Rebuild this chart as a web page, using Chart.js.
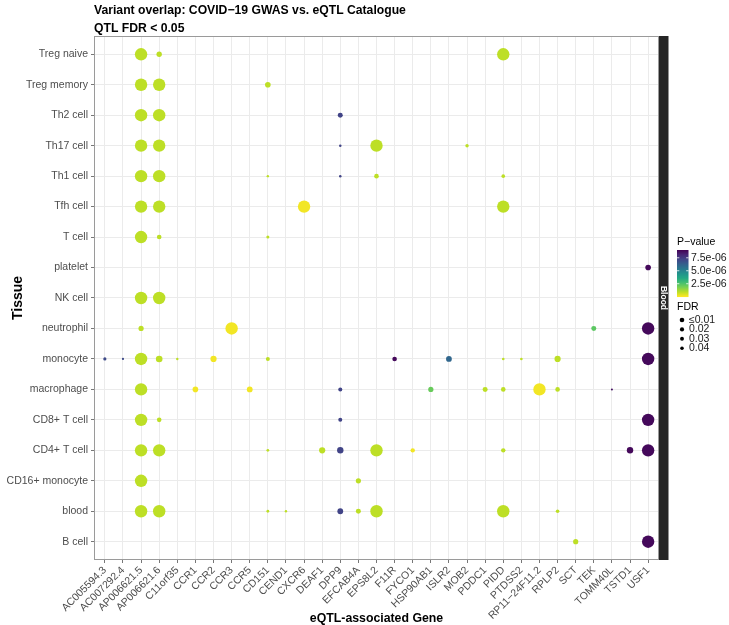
<!DOCTYPE html>
<html>
<head>
<meta charset="utf-8">
<script src="https://cdn.jsdelivr.net/npm/chart.js@4"></script>
<style>
  html, body { margin: 0; padding: 0; background: #fff; }
  #wrap { width: 729px; height: 625px; }
</style>
</head>
<body>
<div id="wrap"><canvas id="chart" width="729" height="625"></canvas></div>
<script>
// 1. DATOS
const genes = [
  "AC005594.3", "AC007292.4", "AP006621.5", "AP006621.6", "C11orf35", "CCR1", "CCR2",
  "CCR3", "CCR5", "CD151", "CEND1", "CXCR6", "DEAF1", "DPP9", "EFCAB4A", "EPS8L2",
  "F11R", "FYCO1", "HSP90AB1", "ISLR2", "MOB2", "PDDC1", "PIDD", "PTDSS2",
  "RP11\u221224F11.2", "RPLP2", "SCT", "TEK", "TOMM40L", "TSTD1", "USF1"
];
const tissues = [
  "Treg naive", "Treg memory", "Th2 cell", "Th17 cell", "Th1 cell", "Tfh cell", "T cell",
  "platelet", "NK cell", "neutrophil", "monocyte", "macrophage", "CD8+ T cell",
  "CD4+ T cell", "CD16+ monocyte", "blood", "B cell"
];

// una fila por punto: tejido, gen, p-valor, FDR
const ptTissue = [
  "Treg naive", "Treg naive", "Treg naive",
  "Treg memory", "Treg memory", "Treg memory",
  "Th2 cell", "Th2 cell", "Th2 cell",
  "Th17 cell", "Th17 cell", "Th17 cell", "Th17 cell", "Th17 cell",
  "Th1 cell", "Th1 cell", "Th1 cell", "Th1 cell", "Th1 cell", "Th1 cell",
  "Tfh cell", "Tfh cell", "Tfh cell", "Tfh cell",
  "T cell", "T cell", "T cell",
  "platelet",
  "NK cell", "NK cell",
  "neutrophil", "neutrophil", "neutrophil", "neutrophil",
  "monocyte", "monocyte", "monocyte", "monocyte", "monocyte", "monocyte", "monocyte",
  "monocyte", "monocyte", "monocyte", "monocyte", "monocyte", "monocyte",
  "macrophage", "macrophage", "macrophage", "macrophage", "macrophage",
  "macrophage", "macrophage", "macrophage", "macrophage", "macrophage",
  "CD8+ T cell", "CD8+ T cell", "CD8+ T cell", "CD8+ T cell",
  "CD4+ T cell", "CD4+ T cell", "CD4+ T cell", "CD4+ T cell", "CD4+ T cell",
  "CD4+ T cell", "CD4+ T cell", "CD4+ T cell", "CD4+ T cell", "CD4+ T cell",
  "CD16+ monocyte", "CD16+ monocyte",
  "blood", "blood", "blood", "blood", "blood", "blood", "blood", "blood", "blood",
  "B cell", "B cell"
];
const ptGene = [
  "AP006621.5", "AP006621.6", "PIDD",
  "AP006621.5", "AP006621.6", "CD151",
  "AP006621.5", "AP006621.6", "DPP9",
  "AP006621.5", "AP006621.6", "DPP9", "EPS8L2", "MOB2",
  "AP006621.5", "AP006621.6", "CD151", "DPP9", "EPS8L2", "PIDD",
  "AP006621.5", "AP006621.6", "CXCR6", "PIDD",
  "AP006621.5", "AP006621.6", "CD151",
  "USF1",
  "AP006621.5", "AP006621.6",
  "AP006621.5", "CCR3", "TEK", "USF1",
  "AC005594.3", "AC007292.4", "AP006621.5", "AP006621.6", "C11orf35", "CCR2", "CD151",
  "F11R", "ISLR2", "PIDD", "PTDSS2", "RPLP2", "USF1",
  "AP006621.5", "CCR1", "CCR5", "DPP9", "HSP90AB1",
  "PDDC1", "PIDD", "RP11\u221224F11.2", "RPLP2", "TOMM40L",
  "AP006621.5", "AP006621.6", "DPP9", "USF1",
  "AP006621.5", "AP006621.6", "CD151", "DEAF1", "DPP9",
  "EPS8L2", "FYCO1", "PIDD", "TSTD1", "USF1",
  "AP006621.5", "EFCAB4A",
  "AP006621.5", "AP006621.6", "CD151", "CEND1", "DPP9", "EFCAB4A", "EPS8L2", "PIDD", "RPLP2",
  "SCT", "USF1"
];
const ptPvalue = [
  0.9e-6, 0.9e-6, 0.9e-6,
  0.9e-6, 0.9e-6, 0.9e-6,
  0.9e-6, 0.9e-6, 7.2e-6,
  0.9e-6, 0.9e-6, 7.2e-6, 0.9e-6, 0.9e-6,
  0.9e-6, 0.9e-6, 0.9e-6, 7.2e-6, 0.9e-6, 0.9e-6,
  0.9e-6, 0.9e-6, 0.15e-6, 0.9e-6,
  0.9e-6, 0.9e-6, 0.9e-6,
  8.8e-6,
  0.9e-6, 0.9e-6,
  0.9e-6, 0.15e-6, 2.3e-6, 8.8e-6,
  7.0e-6, 7.0e-6, 0.9e-6, 0.9e-6, 0.9e-6, 0.15e-6, 0.9e-6,
  8.8e-6, 6.0e-6, 0.9e-6, 0.9e-6, 0.9e-6, 8.8e-6,
  0.9e-6, 0.15e-6, 0.15e-6, 7.2e-6, 2.1e-6,
  0.9e-6, 0.9e-6, 0.15e-6, 0.9e-6, 8.6e-6,
  0.9e-6, 0.9e-6, 7.2e-6, 8.8e-6,
  0.9e-6, 0.9e-6, 0.9e-6, 0.9e-6, 7.2e-6,
  0.9e-6, 0.15e-6, 0.9e-6, 8.8e-6, 8.8e-6,
  0.9e-6, 0.9e-6,
  0.9e-6, 0.9e-6, 0.9e-6, 0.9e-6, 7.2e-6, 0.9e-6, 0.9e-6, 0.9e-6, 0.9e-6,
  0.9e-6, 8.8e-6
];
const ptFdr = [
  0.005, 0.037, 0.01,
  0.005, 0.005, 0.036,
  0.005, 0.005, 0.0385,
  0.005, 0.005, 0.048, 0.01, 0.0446,
  0.005, 0.005, 0.0485, 0.048, 0.040, 0.0438,
  0.005, 0.005, 0.01, 0.01,
  0.005, 0.040, 0.046,
  0.036,
  0.005, 0.005,
  0.0377, 0.005, 0.0385, 0.005,
  0.0454, 0.0492, 0.005, 0.0323, 0.0485, 0.0338, 0.0423,
  0.040, 0.0354, 0.0477, 0.0477, 0.0338, 0.005,
  0.005, 0.036, 0.0354, 0.0423, 0.0377,
  0.0385, 0.040, 0.01, 0.040, 0.05,
  0.005, 0.040, 0.0423, 0.005,
  0.005, 0.005, 0.047, 0.0338, 0.033,
  0.01, 0.0408, 0.0408, 0.033, 0.005,
  0.005, 0.0377,
  0.005, 0.005, 0.047, 0.0485, 0.0354, 0.0385, 0.01, 0.01, 0.0438,
  0.0377, 0.005
];

// leyendas
const pTicks = [7.5e-6, 5.0e-6, 2.5e-6];
const pTickLabels = ["7.5e-06", "5.0e-06", "2.5e-06"];
const fdrLabels = ["\u22640.01", "0.02", "0.03", "0.04"];

// 2. FUNCIONES AUXILIARES
const FONT = "'Liberation Sans', Arial, sans-serif";
const P_MAX = 9e-6;
const VIRIDIS = ["#440154", "#482475", "#414487", "#355f8d", "#2a788e", "#21918c",
  "#22a884", "#44bf70", "#7ad151", "#bddf26", "#fde725"];

function hexToRgb(h) {
  return [parseInt(h.slice(1, 3), 16), parseInt(h.slice(3, 5), 16), parseInt(h.slice(5, 7), 16)];
}

function viridis(t) {
  t = Math.min(1, Math.max(0, t));
  const s = t * (VIRIDIS.length - 1);
  const i = Math.min(VIRIDIS.length - 2, Math.floor(s));
  const f = s - i;
  const a = hexToRgb(VIRIDIS[i]), b = hexToRgb(VIRIDIS[i + 1]);
  const c = a.map((v, k) => Math.round(v + (b[k] - v) * f));
  return `rgb(${c[0]},${c[1]},${c[2]})`;
}

// escala invertida: p bajo = amarillo, p alto = morado
function pColor(p) {
  return viridis(1 - p / P_MAX);
}

// FDR menor = punto mayor, recortado a [0.01, 0.05]
function fdrRadius(f) {
  const c = Math.min(0.05, Math.max(0.01, f));
  return 1 + 5.2 * (0.05 - c) / 0.04;
}

const points = ptGene.map((g, i) => ({
  x: genes.indexOf(g),
  y: tissues.indexOf(ptTissue[i]),
  r: fdrRadius(ptFdr[i])
}));
const pointColors = ptPvalue.map(pColor);

// 3. DIBUJO DE TÍTULOS, TIRA "Blood" Y LEYENDAS
const decorPlugin = {
  id: "decor",
  beforeDatasetsDraw(chart) {
    const { ctx, chartArea: a } = chart;
    ctx.save();
    ctx.strokeStyle = "#9a9a9a";
    ctx.lineWidth = 1;
    ctx.strokeRect(a.left + 0.5, a.top + 0.5, a.right - a.left - 1, a.bottom - a.top - 1);
    ctx.restore();
  },
  afterDraw(chart) {
    const { ctx, chartArea: a } = chart;
    ctx.save();

    // título
    ctx.fillStyle = "#000";
    ctx.font = `bold 12.2px ${FONT}`;
    ctx.textAlign = "left";
    ctx.textBaseline = "alphabetic";
    ctx.fillText("Variant overlap: COVID\u221219 GWAS vs. eQTL Catalogue", a.left, 13.5);
    ctx.fillText("QTL FDR < 0.05", a.left, 31.5);

    // títulos de ejes
    ctx.font = `bold 12.3px ${FONT}`;
    ctx.textAlign = "center";
    ctx.fillText("eQTL-associated Gene", (a.left + a.right) / 2, 622);
    ctx.save();
    ctx.translate(22, (a.top + a.bottom) / 2);
    ctx.rotate(-Math.PI / 2);
    ctx.font = `bold 14px ${FONT}`;
    ctx.fillText("Tissue", 0, 0);
    ctx.restore();

    // tira de faceta
    ctx.fillStyle = "#262626";
    ctx.fillRect(a.right, a.top, 9.5, a.bottom - a.top);
    ctx.save();
    ctx.translate(a.right + 4.75, (a.top + a.bottom) / 2);
    ctx.rotate(Math.PI / 2);
    ctx.fillStyle = "#fff";
    ctx.font = `bold 8.5px ${FONT}`;
    ctx.textAlign = "center";
    ctx.textBaseline = "middle";
    ctx.fillText("Blood", 0, 0);
    ctx.restore();

    // leyenda de color
    const lx = 677, barTop = 250, barH = 46.7, barW = 11.5;
    ctx.fillStyle = "#000";
    ctx.font = `10.5px ${FONT}`;
    ctx.textAlign = "left";
    ctx.textBaseline = "middle";
    ctx.fillText("P\u2212value", lx, 242);
    for (let k = 0; k < barH; k++) {
      const p = P_MAX * (1 - (k + 0.5) / barH);
      ctx.fillStyle = pColor(p);
      ctx.fillRect(lx, barTop + k, barW, 1.05);
    }
    ctx.strokeStyle = "#fff";
    ctx.lineWidth = 0.8;
    pTicks.forEach((v, i) => {
      const y = barTop + barH * (1 - v / P_MAX);
      ctx.beginPath();
      ctx.moveTo(lx, y); ctx.lineTo(lx + 2.3, y);
      ctx.moveTo(lx + barW - 2.3, y); ctx.lineTo(lx + barW, y);
      ctx.stroke();
      ctx.fillStyle = "#1a1a1a";
      ctx.fillText(pTickLabels[i], lx + barW + 2.5, y);
    });

    // leyenda de tamaño
    ctx.fillStyle = "#000";
    ctx.fillText("FDR", lx, 307);
    const dotR = [2.3, 2.1, 1.95, 1.8];
    fdrLabels.forEach((lab, i) => {
      const y = 320 + i * 9.4;
      ctx.fillStyle = "#000";
      ctx.beginPath();
      ctx.arc(lx + 5, y, dotR[i], 0, Math.PI * 2);
      ctx.fill();
      ctx.fillStyle = "#1a1a1a";
      ctx.fillText(lab, lx + 12, y);
    });

    ctx.restore();
  }
};

// 4. GRÁFICA
function makeTicks(n) {
  return scale => { scale.ticks = Array.from({ length: n }, (_, i) => ({ value: i })); };
}

new Chart(document.getElementById("chart").getContext("2d"), {
  type: "bubble",
  data: {
    datasets: [{
      data: points,
      backgroundColor: pointColors,
      borderWidth: 0
    }]
  },
  options: {
    responsive: false,
    animation: false,
    events: [],
    devicePixelRatio: 1,
    layout: { padding: { top: 36, right: 70, left: 0, bottom: 0 } },
    plugins: { legend: { display: false }, tooltip: { enabled: false } },
    scales: {
      x: {
        type: "linear",
        min: -0.6,
        max: genes.length - 0.4,
        afterBuildTicks: makeTicks(genes.length),
        afterFit: s => { s.height = 65; },
        grid: { color: "#ebebeb", lineWidth: 1, tickColor: "#777", tickLength: 3 },
        border: { display: false },
        ticks: {
          autoSkip: false,
          minRotation: 45,
          maxRotation: 45,
          padding: 1,
          color: "#4d4d4d",
          font: { family: FONT, size: 10.5 },
          callback: v => genes[v]
        }
      },
      y: {
        type: "linear",
        reverse: true,
        min: -0.6,
        max: tissues.length - 0.4,
        afterBuildTicks: makeTicks(tissues.length),
        afterFit: s => { s.width = 94; },
        grid: { color: "#ebebeb", lineWidth: 1, tickColor: "#777", tickLength: 3 },
        border: { display: false },
        ticks: {
          autoSkip: false,
          padding: 3,
          color: "#4d4d4d",
          font: { family: FONT, size: 10.5 },
          callback: v => tissues[v]
        }
      }
    }
  },
  plugins: [decorPlugin]
});
</script>
</body>
</html>
